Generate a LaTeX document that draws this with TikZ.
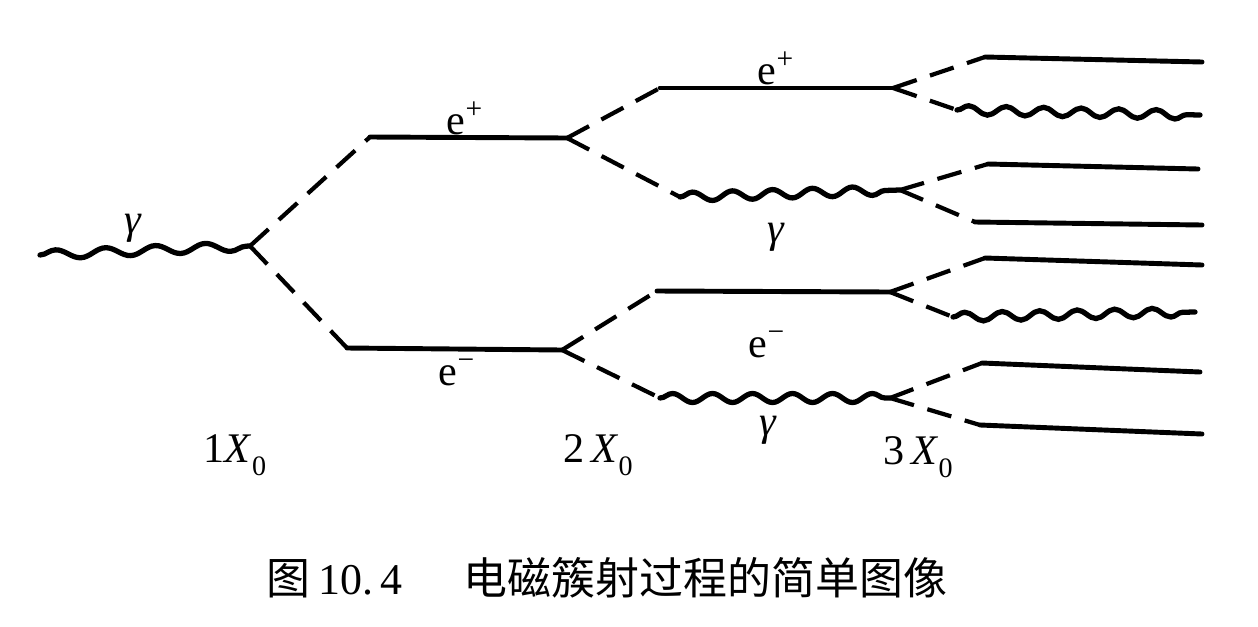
\documentclass[tikz,border=0pt]{standalone}
\usepackage{fontspec}
\setmainfont{Liberation Serif}
\newfontfamily\cjk{Noto Sans CJK SC}
\usetikzlibrary{decorations.pathmorphing}
\begin{document}
\begin{tikzpicture}[x=0.02cm,y=-0.02cm,
  solidln/.style={line width=2.8pt, line cap=round},
  dashln/.style={line width=2.4pt, dash pattern=on 0.5cm off 0.28cm},
  wavy/.style={line width=3pt, line cap=round, decorate,
    decoration={snake, amplitude=0.09cm, segment length=#1}},
  lbl/.style={font=\fontsize{24}{26}\selectfont, inner sep=0pt},
  captxt/.style={font=\fontsize{25}{28}\selectfont, inner sep=0pt}]
\useasboundingbox (0,0) rectangle (1258,626);

% generation 1
\coordinate (g0) at (40,255);
\coordinate (v1) at (250,246);
\coordinate (a1) at (370,137);
\coordinate (v2a) at (567,138);
\coordinate (b1) at (347,348);
\coordinate (v2b) at (562,350);
% generation 2
\coordinate (a2) at (660,88);
\coordinate (v3a) at (893,88);
\coordinate (c2) at (680,197);
\coordinate (v3b) at (900,190);
\coordinate (a3) at (657,291);
\coordinate (v3c) at (890,292);
\coordinate (c3) at (660,398);
\coordinate (v3d) at (890,398);
% generation 3 bends and ends
\coordinate (p1) at (985,57);   \coordinate (q1) at (1202,62);
\coordinate (p2) at (957,110);  \coordinate (q2) at (1200,115);
\coordinate (p3) at (988,164);  \coordinate (q3) at (1198,169);
\coordinate (p4) at (975,222);  \coordinate (q4) at (1202,225);
\coordinate (p5) at (985,258);  \coordinate (q5) at (1202,265);
\coordinate (p6) at (953,317);  \coordinate (q6) at (1195,312);
\coordinate (p7) at (982,363);  \coordinate (q7) at (1200,372);
\coordinate (p8) at (980,425);  \coordinate (q8) at (1202,434);

% incoming photon
\draw[wavy=1cm] (g0) -- (v1);
\draw[dashln] (v1) -- (a1);
\draw[dashln] (v1) -- (b1);
\draw[solidln] (a1) -- (v2a);
\draw[solidln] (b1) -- (v2b);

% second generation
\draw[dashln] (v2a) -- (a2);
\draw[dashln] (v2a) -- (c2);
\draw[solidln] (a2) -- (v3a);
\draw[wavy=0.8cm] (c2) -- (v3b);
\draw[dashln] (v2b) -- (a3);
\draw[dashln] (v2b) -- (c3);
\draw[solidln] (a3) -- (v3c);
\draw[wavy=0.8cm] (c3) -- (v3d);

% third generation
\draw[dashln] (v3a) -- (p1);  \draw[solidln] (p1) -- (q1);
\draw[dashln] (v3a) -- (p2);  \draw[wavy=0.75cm] (p2) -- (q2);
\draw[dashln] (v3b) -- (p3);  \draw[solidln] (p3) -- (q3);
\draw[dashln] (v3b) -- (p4);  \draw[solidln] (p4) -- (q4);
\draw[dashln] (v3c) -- (p5);  \draw[solidln] (p5) -- (q5);
\draw[dashln] (v3c) -- (p6);  \draw[wavy=0.75cm] (p6) -- (q6);
\draw[dashln] (v3d) -- (p7);  \draw[solidln] (p7) -- (q7);
\draw[dashln] (v3d) -- (p8);  \draw[solidln] (p8) -- (q8);

% labels
\node[lbl] (lg1) at (133,228) {\textit{γ}};
\node[lbl] (lep1) at (465,118) {e\textsuperscript{+}};
\node[lbl] (lem1) at (457,372) {e\textsuperscript{−}};
\node[lbl] (lg2) at (776,237) {\textit{γ}};
\node[lbl] (lem2) at (767,344) {e\textsuperscript{−}};
\node[lbl] (lep2) at (776,68) {e\textsuperscript{+}};
\node[lbl] (lg3) at (768,430) {\textit{γ}};
\node[lbl] (x1) at (235,455) {1\textit{X}\raisebox{-0.3em}{\fontsize{16}{16}\selectfont 0}};
\node[lbl] (x2) at (598,455) {2\,\textit{X}\raisebox{-0.3em}{\fontsize{16}{16}\selectfont 0}};
\node[lbl] (x3) at (918,457) {3\,\textit{X}\raisebox{-0.3em}{\fontsize{16}{16}\selectfont 0}};
\node[captxt] (caption) at (607,578) {{\cjk 图}\,10.\,4\hspace{1.4em}{\cjk 电磁簇射过程的简单图像}};
\end{tikzpicture}
\end{document}
